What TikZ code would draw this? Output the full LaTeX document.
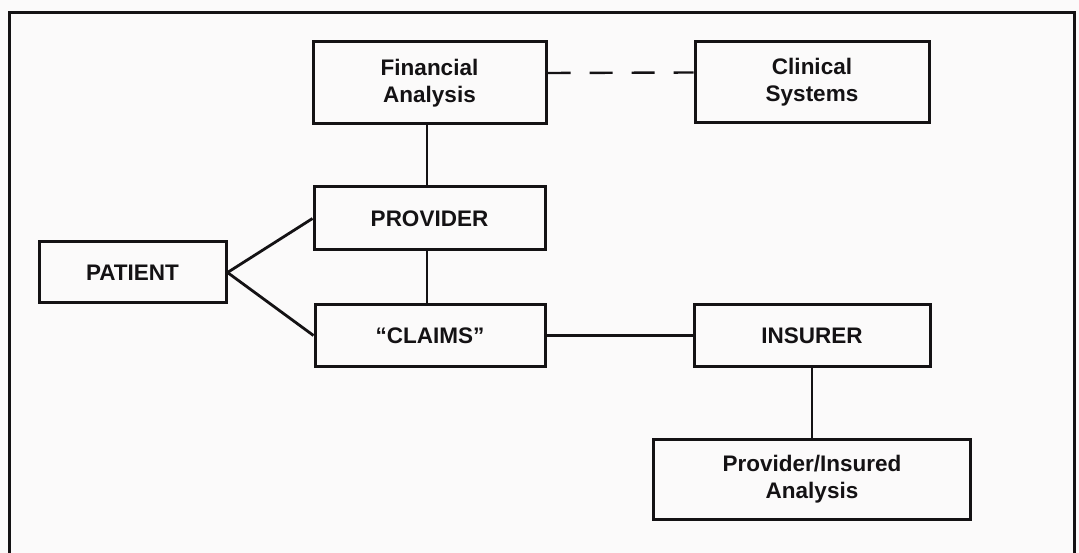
\documentclass[tikz,border=0pt]{standalone}
\usepackage{fontspec}
\setmainfont{Liberation Sans}
\definecolor{paper}{RGB}{251,250,250}
\definecolor{ink}{RGB}{20,18,20}
\begin{document}
\begin{tikzpicture}[x=1pt,y=-1pt,
  box/.style={draw=ink,line width=3pt,rectangle,inner sep=0pt,align=center,
    font=\fontsize{22.5}{27}\selectfont\bfseries,text=ink},
  link/.style={draw=ink,line width=2.4pt},
  dashlink/.style={draw=ink,line width=2.4pt,dash pattern=on 23pt off 19pt}]
\fill[paper] (0,0) rectangle (1079,553);
\useasboundingbox (0,0) rectangle (1079,553);
\draw[ink,line width=3pt] (9,553) -- (9,13) -- (1074,13) -- (1074,553);
\node[box,minimum width=233pt,minimum height=82pt] (fin) at (429.5,83) {Financial\\Analysis};
\node[box,minimum width=234pt,minimum height=81pt] (clin) at (812,82.5) {Clinical\\Systems};
\node[box,minimum width=231pt,minimum height=63pt] (prov) at (429.5,218.5) {PROVIDER};
\node[box,minimum width=230pt,minimum height=62pt] (claims) at (430,335.5) {“CLAIMS”};
\node[box,minimum width=187pt,minimum height=61pt] (patient) at (132.5,272.5) {PATIENT};
\node[box,minimum width=236pt,minimum height=62pt] (insurer) at (812,335.5) {INSURER};
\node[box,minimum width=317pt,minimum height=80pt] (pia) at (812,479) {Provider/Insured\\Analysis};
\draw[dashlink] ([yshift=10pt]fin.east) -- ([yshift=10pt]clin.west);
\draw[link] (fin.south -| 427,0) -- (prov.north -| 427,0);
\draw[link] (prov.south -| 427,0) -- (claims.north -| 427,0);
\draw[link,line width=2.8pt] (patient.east) -- (prov.west);
\draw[link,line width=2.8pt] (patient.east) -- (claims.west);
\draw[link] (claims.east) -- (insurer.west);
\draw[link] (insurer.south) -- (pia.north);
\end{tikzpicture}
\end{document}
